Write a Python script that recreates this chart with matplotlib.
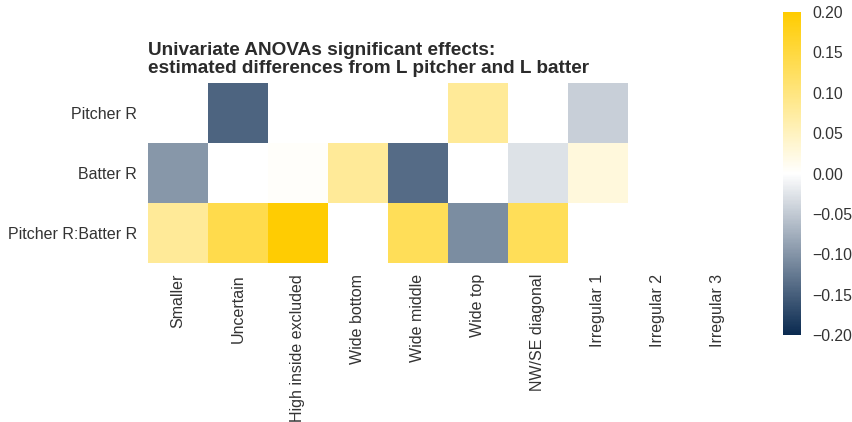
import numpy as np
import matplotlib
matplotlib.use("Agg")
import matplotlib.pyplot as plt
from matplotlib.colors import LinearSegmentedColormap

plt.rcParams['font.family'] = ['Liberation Sans', 'DejaVu Sans']

rows = ["Pitcher R", "Batter R", "Pitcher R:Batter R"]
cols = ["Smaller", "Uncertain", "High inside excluded", "Wide bottom",
        "Wide middle", "Wide top", "NW/SE diagonal", "Irregular 1",
        "Irregular 2", "Irregular 3"]

nan = np.nan
pitcher_r = [nan, -0.145, nan, nan, nan, 0.08, nan, -0.045, nan, nan]
batter_r = [-0.097, nan, 0.004, 0.08, -0.138, nan, -0.027, 0.027, nan, nan]
interaction = [0.08, 0.14, 0.198, nan, 0.13, -0.107, 0.13, nan, nan, nan]

cbar_ticks = [-0.20, -0.15, -0.10, -0.05, 0.00, 0.05, 0.10, 0.15, 0.20]

data = np.ma.masked_invalid(np.array([pitcher_r, batter_r, interaction]))

cmap = LinearSegmentedColormap.from_list(
    "navy_gold", ["#0A2A50", "#FFFFFF", "#FFCC00"])

fig = plt.figure(figsize=(8.53, 4.22), dpi=100)
W, H = 853, 422
ax = fig.add_axes([148 / W, 1 - 263 / H, 600 / W, 180 / H])
mesh = ax.pcolormesh(data, cmap=cmap, vmin=-0.2, vmax=0.2)
ax.set_xlim(0, len(cols))
ax.set_ylim(len(rows), 0)
ax.set_xticks(np.arange(len(cols)) + 0.5)
ax.set_xticklabels(cols, rotation=90, fontsize=11.5, color="#333333")
ax.set_yticks(np.arange(len(rows)) + 0.5)
ax.set_yticklabels(rows, fontsize=11.5, color="#333333")
ax.tick_params(length=0, pad=8)
for s in ax.spines.values():
    s.set_visible(False)

ax.set_title("Univariate ANOVAs significant effects:\nestimated differences from L pitcher and L batter",
             loc="left", fontsize=13.7, fontweight="bold", color="#2b2b2b",
             pad=7, linespacing=1.12)

cax = fig.add_axes([783 / W, 1 - 335 / H, 18 / W, 323 / H])
cb = fig.colorbar(mesh, cax=cax, ticks=cbar_ticks)
cb.outline.set_visible(False)
cb.ax.tick_params(length=0, labelsize=11.3, labelcolor="#333333", pad=8)
cb.ax.set_yticklabels([f"{t:.2f}".replace("-", "\u2212") for t in cbar_ticks])

fig.savefig("out.png", dpi=100)
